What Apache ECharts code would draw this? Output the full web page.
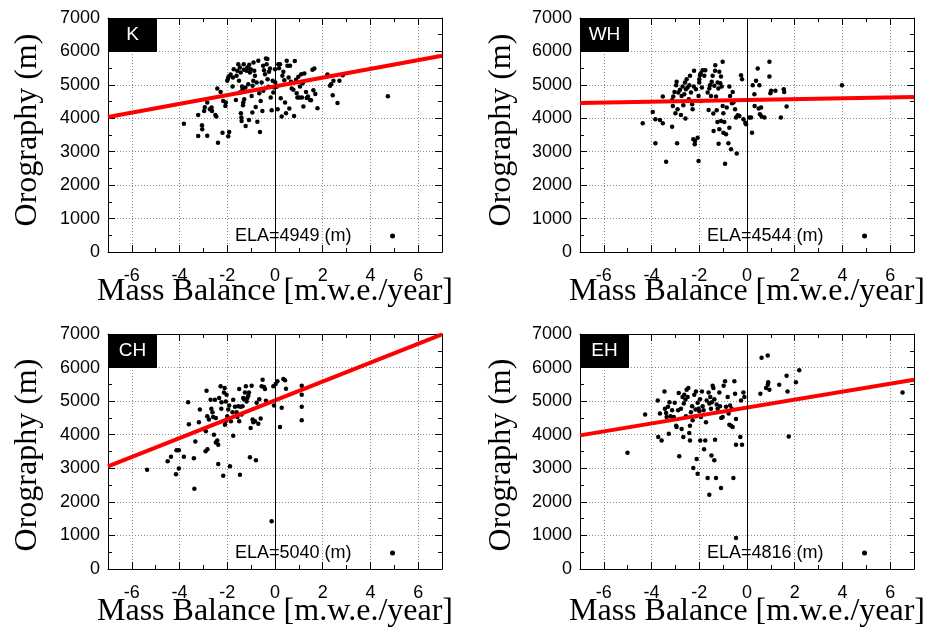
<!DOCTYPE html>
<html><head><meta charset="utf-8">
<script src="https://cdn.jsdelivr.net/npm/echarts@6/dist/echarts.min.js"></script>
<style>html,body{margin:0;padding:0;background:#fff}#c{width:935px;height:631px}</style>
</head><body><div id="c"></div>
<script>
const regionNames = ['K', 'WH', 'CH', 'EH'];
const elaLabels = ['ELA=4949 (m)', 'ELA=4544 (m)', 'ELA=5040 (m)', 'ELA=4816 (m)'];
const xTickValues = [-6, -4, -2, 0, 2, 4, 6];
const xTitle = 'Mass Balance [m.w.e./year]';
const yTitle = 'Orography (m)';

const kPoints = [[-3.82,3840],[-3.22,4100],[-3.22,3470],[-3.06,3790],[-3.05,3670],[-2.97,4220],[-2.94,4330],[-2.84,3480],[-2.84,4470],[-2.73,4270],[-2.66,4320],[-2.64,4220],[-2.50,4100],[-2.46,4050],[-2.42,4890],[-2.39,3270],[-2.28,4790],[-2.20,3570],[-2.17,4520],[-2.08,4370],[-2.06,4470],[-2.00,5120],[-1.97,5190],[-1.94,5250],[-1.96,3460],[-1.92,3590],[-1.86,5310],[-1.78,4950],[-1.76,5220],[-1.73,5470],[-1.64,4550],[-1.61,5270],[-1.58,5420],[-1.54,5620],[-1.51,5120],[-1.48,4770],[-1.47,5520],[-1.44,5370],[-1.43,4150],[-1.41,4020],[-1.40,3920],[-1.38,4950],[-1.36,4870],[-1.34,4390],[-1.33,4470],[-1.31,5620],[-1.30,5450],[-1.29,4570],[-1.24,4920],[-1.23,3770],[-1.19,5420],[-1.16,5520],[-1.12,5020],[-1.09,3950],[-1.08,5600],[-1.05,5370],[-1.02,5470],[-0.98,4670],[-0.95,4170],[-0.94,4970],[-0.91,5120],[-0.90,5670],[-0.87,5420],[-0.84,5270],[-0.81,4340],[-0.77,5070],[-0.74,3900],[-0.70,5720],[-0.66,4750],[-0.63,3590],[-0.60,4520],[-0.56,5070],[-0.53,4220],[-0.50,5570],[-0.49,4820],[-0.46,5440],[-0.42,5320],[-0.38,5790],[-0.35,5620],[-0.32,5770],[-0.31,5170],[-0.28,4940],[-0.25,5390],[-0.21,5490],[-0.18,4620],[-0.14,4240],[-0.10,5120],[-0.07,4770],[-0.04,4920],[0.00,5470],[0.01,5070],[0.07,4940],[0.11,4270],[0.14,5620],[0.17,5500],[0.21,5620],[0.24,4600],[0.28,4050],[0.31,5270],[0.35,5390],[0.39,5140],[0.42,4470],[0.46,4150],[0.49,5720],[0.52,5570],[0.57,5220],[0.60,4290],[0.63,5570],[0.67,5090],[0.70,4890],[0.77,4850],[0.80,4070],[0.83,5710],[0.88,5150],[0.91,4750],[0.94,4620],[0.98,5240],[1.02,4620],[1.05,4950],[1.10,5320],[1.13,4620],[1.16,5050],[1.19,4350],[1.23,5340],[1.30,4790],[1.33,4610],[1.38,4650],[1.47,4550],[1.51,4540],[1.57,5450],[1.61,4840],[1.65,5490],[1.69,4730],[1.78,4300],[2.20,5310],[2.31,4970],[2.35,5020],[2.42,4690],[2.45,5120],[2.62,4460],[2.70,5120],[2.84,5290],[4.73,4660]];

const whPoints = [[-4.37,3850],[-3.95,4190],[-3.84,3250],[-3.84,3970],[-3.65,3950],[-3.53,3850],[-3.53,4650],[-3.39,2700],[-3.14,4550],[-3.14,3750],[-3.11,4370],[-3.09,4650],[-3.04,4790],[-3.00,4150],[-2.97,4990],[-2.95,5090],[-2.93,3250],[-2.91,4270],[-2.88,4770],[-2.81,4850],[-2.77,4100],[-2.74,4670],[-2.70,4950],[-2.67,4390],[-2.63,4720],[-2.60,5070],[-2.58,3990],[-2.56,4870],[-2.53,5170],[-2.49,4920],[-2.44,4570],[-2.42,4990],[-2.39,5270],[-2.35,4770],[-2.30,4420],[-2.28,4270],[-2.25,3370],[-2.23,4950],[-2.22,5420],[-2.19,3220],[-2.18,3320],[-2.14,4870],[-2.07,3420],[-2.03,2720],[-2.03,4670],[-2.00,5170],[-1.97,5290],[-1.94,5350],[-2.00,5070],[-1.93,4520],[-1.89,4920],[-1.86,5440],[-1.79,5270],[-1.75,5440],[-1.65,4770],[-1.61,4250],[-1.58,4890],[-1.55,4990],[-1.51,4670],[-1.48,5090],[-1.44,5270],[-1.41,4140],[-1.40,3620],[-1.37,4970],[-1.34,5420],[-1.33,5590],[-1.30,4650],[-1.27,4240],[-1.24,3890],[-1.23,5070],[-1.20,4890],[-1.19,3240],[-1.16,3670],[-1.16,5390],[-1.12,5050],[-1.09,5250],[-1.09,3920],[-1.06,4950],[-1.02,5690],[-1.02,4370],[-0.99,4150],[-0.99,3570],[-0.95,3890],[-0.92,2640],[-0.88,3520],[-0.85,4320],[-0.78,3250],[-0.74,4950],[-0.74,3720],[-0.71,4670],[-0.67,3070],[-0.63,4450],[-0.60,4790],[-0.57,4470],[-0.50,4270],[-0.46,4020],[-0.43,2950],[-0.39,4090],[-0.32,4070],[-0.25,5290],[-0.21,5170],[-0.15,3970],[-0.07,3870],[-0.04,3820],[0.10,4020],[0.17,4020],[0.21,3570],[0.24,4990],[0.31,4720],[0.32,4370],[0.38,5120],[0.45,5490],[0.49,4290],[0.52,4990],[0.54,4120],[0.59,4320],[0.61,4050],[0.73,4020],[0.94,5690],[0.94,5250],[0.98,4750],[1.01,4820],[1.19,4820],[1.42,4020],[1.54,4870],[1.56,4790],[1.66,4350],[3.98,4990]];

const chPoints = [[-5.36,2960],[-4.50,3210],[-4.36,3340],[-4.15,2820],[-4.13,3540],[-4.03,3540],[-4.03,2990],[-3.82,3340],[-3.64,4970],[-3.61,4310],[-3.40,3300],[-3.38,2390],[-3.34,3800],[-3.19,4370],[-3.15,4750],[-2.91,3510],[-2.90,4100],[-2.87,5310],[-2.84,4550],[-2.83,3570],[-2.77,4450],[-2.70,5040],[-2.67,4770],[-2.62,4670],[-2.59,4530],[-2.56,4000],[-2.52,5040],[-2.48,4500],[-2.48,3770],[-2.42,3830],[-2.38,3700],[-2.38,3130],[-2.34,5090],[-2.28,5440],[-2.25,4770],[-2.24,4970],[-2.17,2780],[-2.14,5260],[-2.11,5390],[-2.10,4300],[-2.07,4400],[-2.06,4990],[-2.03,5190],[-2.00,4550],[-1.96,4750],[-1.92,4870],[-1.89,3060],[-1.85,4400],[-1.78,4670],[-1.75,5040],[-1.75,3970],[-1.68,4830],[-1.61,4670],[-1.58,4530],[-1.54,4850],[-1.50,5360],[-1.50,4400],[-1.47,2810],[-1.44,4830],[-1.40,4600],[-1.36,4850],[-1.33,5090],[-1.30,5060],[-1.26,5260],[-1.22,5440],[-1.19,4990],[-1.16,5090],[-1.12,5160],[-1.09,5260],[-1.05,3330],[-1.02,4200],[-0.98,5460],[-0.94,4450],[-0.91,4370],[-0.84,4400],[-0.80,3240],[-0.77,4950],[-0.70,4330],[-0.66,5060],[-0.60,4480],[-0.56,5440],[-0.52,5640],[-0.46,5420],[-0.42,5360],[-0.38,5010],[-0.14,1420],[-0.07,5440],[-0.04,4870],[0.03,5510],[0.10,5590],[0.21,4230],[0.28,4800],[0.35,5660],[0.42,5620],[0.46,5370],[1.12,5460],[1.12,5190],[1.12,4830],[1.12,4430]];

const ehPoints = [[-5.01,3460],[-4.27,4600],[-3.74,5020],[-3.72,3930],[-3.65,4630],[-3.58,3830],[-3.46,5290],[-3.44,4770],[-3.39,4650],[-3.37,4530],[-3.31,4830],[-3.28,4030],[-3.25,4970],[-3.21,4550],[-3.14,4730],[-3.07,4530],[-3.03,4950],[-2.97,4270],[-2.95,4230],[-2.89,4730],[-2.86,5240],[-2.84,3360],[-2.77,4770],[-2.74,4170],[-2.70,5120],[-2.67,3930],[-2.65,4930],[-2.63,5190],[-2.58,5040],[-2.56,4550],[-2.53,5340],[-2.49,5120],[-2.46,5390],[-2.42,4050],[-2.39,4270],[-2.39,3830],[-2.35,4670],[-2.30,4850],[-2.28,4430],[-2.25,3010],[-2.21,5190],[-2.16,4750],[-2.14,5290],[-2.14,4550],[-2.11,3280],[-2.07,2840],[-2.07,4950],[-2.03,4770],[-2.00,4700],[-1.97,5060],[-1.96,3830],[-1.93,4530],[-1.89,5290],[-1.86,4850],[-1.82,4730],[-1.80,3570],[-1.75,3830],[-1.72,4370],[-1.69,5020],[-1.65,2710],[-1.61,5260],[-1.58,2210],[-1.58,4930],[-1.54,5120],[-1.51,4770],[-1.49,3380],[-1.47,4970],[-1.44,5460],[-1.41,5390],[-1.37,3240],[-1.37,5060],[-1.34,3850],[-1.30,2710],[-1.27,4900],[-1.23,4770],[-1.16,5260],[-1.13,4850],[-1.09,2410],[-1.08,4500],[-1.02,4530],[-0.98,5460],[-0.92,5590],[-0.88,4830],[-0.81,5120],[-0.77,4630],[-0.74,4300],[-0.71,4870],[-0.67,4270],[-0.64,4770],[-0.60,4230],[-0.57,2710],[-0.53,5590],[-0.50,5220],[-0.46,4470],[-0.46,3700],[-0.46,920],[-0.28,3930],[-0.25,5020],[-0.21,3700],[-0.15,5260],[-0.11,5120],[0.56,5220],[0.61,6290],[0.87,6360],[0.80,5390],[0.87,5490],[0.89,5560],[0.94,5340],[1.35,5490],[1.66,5760],[1.70,5290],[1.75,3950],[2.05,5560],[2.19,5920],[6.52,5260]];

const kFit = [[-7, 4040], [7, 5870]];
const whFit = [[-7, 4460], [7, 4640]];
const chFit = [[-7, 3060], [7, 6990]];
const ehFit = [[-7, 3980], [7, 5640]];

const pointSets = [kPoints, whPoints, chPoints, ehPoints];
const fitSets = [kFit, whFit, chFit, ehFit];

const panels = [
  { left: 108, top: 18, height: 234, yNameX: 28, yNameY: 130, xNameY: 292 },
  { left: 580, top: 18, height: 234, yNameX: 502, yNameY: 130, xNameY: 292 },
  { left: 108, top: 334, height: 235, yNameX: 28, yNameY: 455, xNameY: 612 },
  { left: 580, top: 334, height: 235, yNameX: 502, yNameY: 455, xNameY: 612 }
];
const W = 334;
const SANS = '"Liberation Sans", Arial, Helvetica, sans-serif';
const SERIF = '"Liberation Serif", "Times New Roman", serif';

function blk() { return { color: '#000', width: 1, type: 'solid', opacity: 1 }; }
function dotted() { return { color: '#8c8c8c', width: 1, type: [1, 2], opacity: 1 }; }
function xLabel(v) { const n = Math.round(Number(v)); return xTickValues.indexOf(n) >= 0 ? String(n) : ''; }

const grid = [], xAxis = [], yAxis = [], series = [], legend = [], graphic = [];

panels.forEach((p, g) => {
  grid.push({ left: p.left, top: p.top, width: W, height: p.height, containLabel: false });
  xAxis.push({
    gridIndex: g, type: 'value', min: -7, max: 7, interval: 1, position: 'bottom',
    axisLine: { show: true, onZero: false, lineStyle: blk() },
    axisTick: { show: true, inside: true, length: 4, lineStyle: blk() },
    axisLabel: { show: true, showMinLabel: false, showMaxLabel: false, margin: 15, color: '#000', fontSize: 18, fontFamily: SANS, formatter: xLabel, hideOverlap: false },
    splitLine: { show: false }
  });
  xAxis.push({
    gridIndex: g, type: 'value', min: -7, max: 7, position: 'bottom',
    axisLine: { show: false, onZero: false },
    axisTick: { show: true, inside: true, length: 7, customValues: xTickValues, lineStyle: blk() },
    axisLabel: { show: false },
    splitLine: { show: true, lineStyle: dotted() }
  });
  xAxis.push({
    gridIndex: g, type: 'value', min: -7, max: 7, interval: 1, position: 'top',
    axisLine: { show: true, onZero: false, lineStyle: blk() },
    axisTick: { show: true, inside: true, length: 4, lineStyle: blk() },
    axisLabel: { show: false }, splitLine: { show: false }
  });
  xAxis.push({
    gridIndex: g, type: 'value', min: -7, max: 7, position: 'top',
    axisLine: { show: false, onZero: false },
    axisTick: { show: true, inside: true, length: 7, customValues: xTickValues, lineStyle: blk() },
    axisLabel: { show: false }, splitLine: { show: false }
  });
  yAxis.push({
    gridIndex: g, type: 'value', min: 0, max: 7000, interval: 1000, position: 'left',
    axisLine: { show: true, onZero: false, lineStyle: blk() },
    axisTick: { show: true, inside: true, length: 7, lineStyle: blk() },
    minorTick: { show: true, splitNumber: 2, length: 4, lineStyle: blk() },
    axisLabel: { show: true, margin: 8, color: '#000', fontSize: 18, fontFamily: SANS, formatter: v => String(v) },
    splitLine: { show: true, lineStyle: dotted() },
    minorSplitLine: { show: false }
  });
  yAxis.push({
    gridIndex: g, type: 'value', min: 0, max: 7000, interval: 1000, position: 'right',
    axisLine: { show: true, onZero: false, lineStyle: blk() },
    axisTick: { show: true, inside: true, length: 7, lineStyle: blk() },
    minorTick: { show: true, splitNumber: 2, length: 4, lineStyle: blk() },
    axisLabel: { show: false }, splitLine: { show: false }, minorSplitLine: { show: false }
  });

  series.push({
    type: 'scatter', name: elaLabels[g], xAxisIndex: g * 4, yAxisIndex: g * 2,
    data: pointSets[g], symbol: 'circle', symbolSize: 4.5,
    itemStyle: { color: '#000', opacity: 1 }, z: 3, silent: true,
    markLine: {
      silent: true, symbol: ['none', 'none'], label: { show: false },
      lineStyle: { color: '#000', type: 'solid', width: 1, opacity: 1 },
      emphasis: { disabled: true },
      data: [{ xAxis: 0 }]
    }
  });
  series.push({
    type: 'line', name: 'fit' + g, xAxisIndex: g * 4, yAxisIndex: g * 2,
    data: fitSets[g], showSymbol: false, symbol: 'none',
    lineStyle: { color: '#ff0000', width: 4 }, itemStyle: { color: '#ff0000' },
    z: 4, silent: true
  });

  legend.push({
    data: [elaLabels[g]], left: p.left + 127, top: p.top + p.height - 25,
    padding: 0, align: 'right', icon: 'circle', itemWidth: 72, itemHeight: 5,
    selectedMode: false,
    itemStyle: { opacity: 1 },
    textStyle: { fontSize: 18, color: '#000', fontFamily: SANS }
  });

  graphic.push({ type: 'rect', shape: { x: p.left, y: p.top, width: 49, height: 34 }, style: { fill: '#000' }, z: 100 });
  graphic.push({ type: 'text', x: p.left + 24.5, y: p.top + 17, z: 101,
    style: { text: regionNames[g], fill: '#fff', font: '19px ' + SANS, align: 'center', verticalAlign: 'middle' } });
  graphic.push({ type: 'text', x: p.yNameX, y: p.yNameY, rotation: Math.PI / 2, z: 101,
    style: { text: yTitle, fill: '#000', font: '32px ' + SERIF, align: 'center', verticalAlign: 'middle' } });
  graphic.push({ type: 'text', x: p.left + W / 2, y: p.xNameY, z: 101,
    style: { text: xTitle, fill: '#000', font: '32px ' + SERIF, align: 'center', verticalAlign: 'middle' } });
});

const chart = echarts.init(document.getElementById('c'), null, { renderer: 'canvas' });
chart.setOption({
  animation: false,
  backgroundColor: '#fff',
  grid, xAxis, yAxis, series, legend, graphic
});
</script>
</body></html>
